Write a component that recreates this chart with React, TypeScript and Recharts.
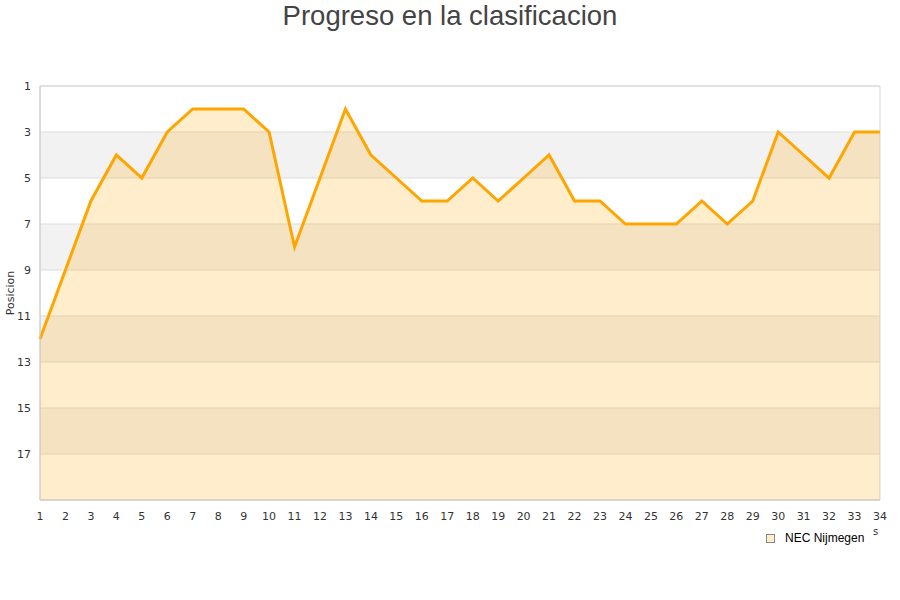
import React from 'react';
import {
  ComposedChart,
  Area,
  XAxis,
  YAxis,
  CartesianGrid,
  ReferenceArea
} from 'recharts';

// Jornadas y posicion de NEC Nijmegen
const jornadas = [
  1, 2, 3, 4, 5, 6, 7, 8, 9, 10, 11, 12, 13, 14, 15, 16, 17,
  18, 19, 20, 21, 22, 23, 24, 25, 26, 27, 28, 29, 30, 31, 32, 33, 34
];
const posiciones = [
  12, 9, 6, 4, 5, 3, 2, 2, 2, 3, 8, 5, 2, 4, 5, 6, 6,
  5, 6, 5, 4, 6, 6, 7, 7, 7, 6, 7, 6, 3, 4, 5, 3, 3
];
const yTicks = [1, 3, 5, 7, 9, 11, 13, 15, 17];
const equipo = 'NEC Nijmegen';

const data = jornadas.map((j, i) => ({ jornada: j, posicion: posiciones[i] }));

const ORANGE = '#ffa500';
const TICK_STYLE = { fill: '#333', fontSize: 11, fontFamily: 'DejaVu Sans' };

export default function App() {
  return (
    <div style={{ position: 'absolute', left: 0, top: 0, width: 900, height: 600, background: '#fff' }}>
      <div style={{
        position: 'absolute',
        top: 0,
        left: 0,
        width: 900,
        textAlign: 'center',
        fontFamily: 'Liberation Sans, Arial',
        fontSize: 27.5,
        color: '#444',
        lineHeight: '32px'
      }}>
        Progreso en la clasificacion
      </div>
      <ComposedChart
        width={900}
        height={600}
        data={data}
        margin={{ top: 86, right: 20, bottom: 70, left: 0 }}
      >
        <CartesianGrid
          vertical={false}
          stroke="#dddddd"
          horizontalFill={['#ffffff', '#f2f2f2']}
        />
        <XAxis
          dataKey="jornada"
          type="number"
          domain={[1, 34]}
          ticks={jornadas}
          interval={0}
          height={30}
          tick={TICK_STYLE}
          tickLine={false}
          axisLine={{ stroke: '#cccccc' }}
          tickMargin={6}
        />
        <YAxis
          type="number"
          reversed
          domain={[1, 19]}
          ticks={yTicks}
          interval={0}
          width={40}
          tick={TICK_STYLE}
          tickLine={false}
          axisLine={{ stroke: '#cccccc' }}
          tickMargin={3}
          label={{
            content: () => (
              <text
                x={10}
                y={293}
                transform="rotate(-90 10 293)"
                textAnchor="middle"
                dominantBaseline="central"
                fill="#333"
                fontSize={11}
                fontFamily="DejaVu Sans"
              >
                Posicion
              </text>
            )
          }}
        />
        <ReferenceArea x1={1} x2={34} y1={1} y2={19} fill="none" stroke="#d6d6d6" strokeOpacity={1} ifOverflow="visible" />
        <Area
          type="linear"
          dataKey="posicion"
          name={equipo}
          baseValue={19}
          stroke={ORANGE}
          strokeWidth={3}
          fill={ORANGE}
          fillOpacity={0.2}
          dot={false}
          activeDot={false}
          isAnimationActive={false}
        />
        <text x={873} y={535} fontSize={10} fill="#333" fontFamily="DejaVu Sans">s</text>
      </ComposedChart>
      <div style={{
        position: 'absolute',
        left: 766,
        top: 531,
        display: 'flex',
        alignItems: 'center',
        fontFamily: 'Liberation Sans, Arial',
        fontSize: 12,
        color: '#000'
      }}>
        <span style={{
          display: 'inline-block',
          width: 7,
          height: 7,
          background: '#ffedcc',
          border: '1px solid #888',
          marginRight: 10
        }} />
        {equipo}
      </div>
    </div>
  );
}
